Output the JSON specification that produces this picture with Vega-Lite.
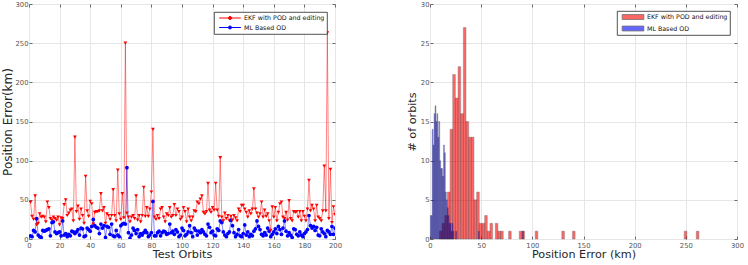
{
"$schema":"https://vega.github.io/schema/vega-lite/v6.json",
"background":"white",
"padding":{"left":0,"top":0,"right":0,"bottom":0},
"spacing":63,
"resolve":{"scale":{"color":"independent"},"legend":{"color":"independent"}},
"config":{
 "font":"DejaVu Sans",
 "view":{"stroke":"#6b6b6b","strokeWidth":1},
 "axis":{"gridColor":"#e6e6e6","gridWidth":1,"domain":false,"tickColor":"#6b6b6b","tickSize":-3,"labelFontSize":6.8,"labelColor":"#555555","titleFontWeight":"normal","titleColor":"#262626","labelPadding":4,"labelFlush":false},
 "axisX":{"labelFlush":false,"labelPadding":6},
 "legend":{"orient":"top-right","title":null,"fillColor":"white","strokeColor":"#262626","strokeWidth":0.8,"padding":2,"labelFontSize":6.3,"labelColor":"#111111","symbolSize":49,"rowPadding":1.5,"labelOffset":10,"symbolOffset":10,"offset":8}
},
"datasets":{
"orbits":[
{"o":1,"r":47,"b":4},{"o":2,"r":29,"b":3},{"o":3,"r":25,"b":11},{"o":4,"r":55,"b":9},{"o":5,"r":18,"b":26},{"o":6,"r":20,"b":5},{"o":7,"r":32,"b":3},{"o":8,"r":28,"b":2},{"o":9,"r":29,"b":11},{"o":10,"r":28,"b":10},
{"o":11,"r":22,"b":11},{"o":12,"r":47,"b":12},{"o":13,"r":40,"b":13},{"o":14,"r":26,"b":4},{"o":15,"r":24,"b":21},{"o":16,"r":28,"b":22},{"o":17,"r":26,"b":9},{"o":18,"r":24,"b":7},{"o":19,"r":28,"b":8},{"o":20,"r":18,"b":9},
{"o":21,"r":27,"b":4},{"o":22,"r":26,"b":23},{"o":23,"r":44,"b":5},{"o":24,"r":50,"b":7},{"o":25,"r":30,"b":3},{"o":26,"r":33,"b":6},{"o":27,"r":37,"b":4},{"o":28,"r":38,"b":10},{"o":29,"r":23,"b":9},{"o":30,"r":130,"b":7},
{"o":31,"r":35,"b":9},{"o":32,"r":42,"b":12},{"o":33,"r":25,"b":5},{"o":34,"r":38,"b":14},{"o":35,"r":30,"b":13},{"o":36,"r":20,"b":3},{"o":37,"r":80,"b":4},{"o":38,"r":36,"b":14},{"o":39,"r":29,"b":12},{"o":40,"r":48,"b":10},
{"o":41,"r":45,"b":16},{"o":42,"r":19,"b":25},{"o":43,"r":34,"b":17},{"o":44,"r":35,"b":15},{"o":45,"r":35,"b":14},{"o":46,"r":36,"b":7},{"o":47,"r":58,"b":19},{"o":48,"r":36,"b":14},{"o":49,"r":40,"b":17},{"o":50,"r":20,"b":2},
{"o":51,"r":32,"b":16},{"o":52,"r":30,"b":15},{"o":53,"r":25,"b":6},{"o":54,"r":30,"b":19},{"o":55,"r":63,"b":4},{"o":56,"r":30,"b":3},{"o":57,"r":23,"b":11},{"o":58,"r":88,"b":5},{"o":59,"r":32,"b":3},{"o":60,"r":25,"b":17},
{"o":61,"r":58,"b":19},{"o":62,"r":27,"b":20},{"o":63,"r":250,"b":19},{"o":64,"r":33,"b":91},{"o":65,"r":28,"b":8},{"o":66,"r":22,"b":1},{"o":67,"r":28,"b":5},{"o":68,"r":30,"b":14},{"o":69,"r":26,"b":11},{"o":70,"r":55,"b":7},
{"o":71,"r":24,"b":12},{"o":72,"r":30,"b":3},{"o":73,"r":22,"b":7},{"o":74,"r":30,"b":5},{"o":75,"r":66,"b":8},{"o":76,"r":29,"b":11},{"o":77,"r":40,"b":8},{"o":78,"r":29,"b":3},{"o":79,"r":38,"b":5},{"o":80,"r":60,"b":8},
{"o":81,"r":140,"b":48},{"o":82,"r":28,"b":4},{"o":83,"r":25,"b":4},{"o":84,"r":30,"b":8},{"o":85,"r":26,"b":10},{"o":86,"r":38,"b":4},{"o":87,"r":40,"b":8},{"o":88,"r":28,"b":10},{"o":89,"r":22,"b":9},{"o":90,"r":32,"b":6},
{"o":91,"r":30,"b":7},{"o":92,"r":40,"b":19},{"o":93,"r":28,"b":8},{"o":94,"r":30,"b":10},{"o":95,"r":44,"b":6},{"o":96,"r":30,"b":12},{"o":97,"r":38,"b":9},{"o":98,"r":35,"b":3},{"o":99,"r":25,"b":5},{"o":100,"r":28,"b":14},
{"o":101,"r":40,"b":11},{"o":102,"r":35,"b":4},{"o":103,"r":22,"b":6},{"o":104,"r":38,"b":9},{"o":105,"r":28,"b":17},{"o":106,"r":23,"b":8},{"o":107,"r":28,"b":3},{"o":108,"r":36,"b":14},{"o":109,"r":35,"b":11},{"o":110,"r":47,"b":5},
{"o":111,"r":45,"b":10},{"o":112,"r":51,"b":8},{"o":113,"r":55,"b":12},{"o":114,"r":34,"b":9},{"o":115,"r":32,"b":6},{"o":116,"r":35,"b":4},{"o":117,"r":71,"b":19},{"o":118,"r":37,"b":15},{"o":119,"r":34,"b":8},{"o":120,"r":40,"b":10},
{"o":121,"r":37,"b":5},{"o":122,"r":71,"b":4},{"o":123,"r":37,"b":13},{"o":124,"r":29,"b":11},{"o":125,"r":104,"b":23},{"o":126,"r":28,"b":21},{"o":127,"r":23,"b":9},{"o":128,"r":33,"b":5},{"o":129,"r":26,"b":3},{"o":130,"r":30,"b":7},
{"o":131,"r":23,"b":9},{"o":132,"r":29,"b":24},{"o":133,"r":24,"b":17},{"o":134,"r":30,"b":8},{"o":135,"r":27,"b":3},{"o":136,"r":23,"b":6},{"o":137,"r":38,"b":12},{"o":138,"r":35,"b":4},{"o":139,"r":43,"b":3},{"o":140,"r":43,"b":7},
{"o":141,"r":38,"b":18},{"o":142,"r":34,"b":5},{"o":143,"r":28,"b":9},{"o":144,"r":36,"b":3},{"o":145,"r":32,"b":6},{"o":146,"r":38,"b":4},{"o":147,"r":64,"b":10},{"o":148,"r":38,"b":13},{"o":149,"r":33,"b":23},{"o":150,"r":28,"b":16},
{"o":151,"r":32,"b":12},{"o":152,"r":47,"b":6},{"o":153,"r":28,"b":4},{"o":154,"r":37,"b":8},{"o":155,"r":29,"b":5},{"o":156,"r":32,"b":14},{"o":157,"r":23,"b":10},{"o":158,"r":11,"b":3},{"o":159,"r":41,"b":6},{"o":160,"r":28,"b":9},
{"o":161,"r":40,"b":13},{"o":162,"r":23,"b":7},{"o":163,"r":34,"b":16},{"o":164,"r":45,"b":12},{"o":165,"r":47,"b":6},{"o":166,"r":28,"b":14},{"o":167,"r":26,"b":23},{"o":168,"r":34,"b":10},{"o":169,"r":24,"b":4},{"o":170,"r":49,"b":8},
{"o":171,"r":26,"b":5},{"o":172,"r":23,"b":2},{"o":173,"r":35,"b":13},{"o":174,"r":34,"b":12},{"o":175,"r":35,"b":6},{"o":176,"r":28,"b":4},{"o":177,"r":35,"b":9},{"o":178,"r":23,"b":5},{"o":179,"r":35,"b":3},{"o":180,"r":29,"b":7},
{"o":181,"r":23,"b":9},{"o":182,"r":38,"b":12},{"o":183,"r":75,"b":30},{"o":184,"r":36,"b":17},{"o":185,"r":43,"b":14},{"o":186,"r":38,"b":16},{"o":187,"r":23,"b":11},{"o":188,"r":43,"b":15},{"o":189,"r":28,"b":5},{"o":190,"r":26,"b":4},
{"o":191,"r":23,"b":13},{"o":192,"r":36,"b":9},{"o":193,"r":93,"b":7},{"o":194,"r":36,"b":3},{"o":195,"r":263,"b":11},{"o":196,"r":26,"b":9},{"o":197,"r":89,"b":6},{"o":198,"r":21,"b":16},{"o":199,"r":41,"b":6},{"o":200,"r":31,"b":14}
],
"hist":[
{"s":"r","x0":9.2,"x1":11.8,"n":1},{"s":"r","x0":11.8,"x1":14.4,"n":2},{"s":"r","x0":14.4,"x1":17.0,"n":3},{"s":"r","x0":17.0,"x1":19.6,"n":6},{"s":"r","x0":19.6,"x1":22.2,"n":14},{"s":"r","x0":22.2,"x1":24.8,"n":21},{"s":"r","x0":24.8,"x1":27.4,"n":18},{"s":"r","x0":27.4,"x1":30.0,"n":22},{"s":"r","x0":30.0,"x1":32.6,"n":16},{"s":"r","x0":32.6,"x1":35.2,"n":27},{"s":"r","x0":35.2,"x1":37.8,"n":15},{"s":"r","x0":37.8,"x1":40.4,"n":13},{"s":"r","x0":40.4,"x1":43.0,"n":13},{"s":"r","x0":43.0,"x1":45.6,"n":5},{"s":"r","x0":45.6,"x1":48.2,"n":6},{"s":"r","x0":48.2,"x1":50.8,"n":2},{"s":"r","x0":50.8,"x1":53.4,"n":2},{"s":"r","x0":53.4,"x1":56.0,"n":3},{"s":"r","x0":56.0,"x1":58.6,"n":1},{"s":"r","x0":58.6,"x1":61.2,"n":2},{"s":"r","x0":63.8,"x1":66.4,"n":2},{"s":"r","x0":66.4,"x1":69.0,"n":1},{"s":"r","x0":69.0,"x1":71.6,"n":1},{"s":"r","x0":76.8,"x1":79.4,"n":1},{"s":"r","x0":87.2,"x1":89.8,"n":1},{"s":"r","x0":89.8,"x1":92.4,"n":1},{"s":"r","x0":102.8,"x1":105.4,"n":1},{"s":"r","x0":128.8,"x1":131.4,"n":1},{"s":"r","x0":139.2,"x1":141.8,"n":1},{"s":"r","x0":248.4,"x1":251.0,"n":1},{"s":"r","x0":260.2,"x1":262.8,"n":1},
{"s":"b","x0":0.30,"x1":1.22,"n":3},{"s":"b","x0":1.22,"x1":2.14,"n":3},{"s":"b","x0":2.14,"x1":3.06,"n":14},{"s":"b","x0":3.06,"x1":3.98,"n":12},{"s":"b","x0":3.98,"x1":4.90,"n":16},{"s":"b","x0":4.90,"x1":5.82,"n":17},{"s":"b","x0":5.82,"x1":6.74,"n":15},{"s":"b","x0":6.74,"x1":7.66,"n":16},{"s":"b","x0":7.66,"x1":8.58,"n":13},{"s":"b","x0":8.58,"x1":9.50,"n":15},{"s":"b","x0":9.50,"x1":10.42,"n":10},{"s":"b","x0":10.42,"x1":11.34,"n":9},{"s":"b","x0":11.34,"x1":12.26,"n":9},{"s":"b","x0":12.26,"x1":13.18,"n":8},{"s":"b","x0":13.18,"x1":14.10,"n":12},{"s":"b","x0":14.10,"x1":15.02,"n":11},{"s":"b","x0":15.02,"x1":15.94,"n":6},{"s":"b","x0":15.94,"x1":16.86,"n":5},{"s":"b","x0":16.86,"x1":17.78,"n":4},{"s":"b","x0":17.78,"x1":18.70,"n":3},{"s":"b","x0":18.70,"x1":19.62,"n":2},{"s":"b","x0":19.62,"x1":20.54,"n":2},{"s":"b","x0":20.54,"x1":21.46,"n":1},{"s":"b","x0":21.46,"x1":22.38,"n":2},{"s":"b","x0":22.38,"x1":23.30,"n":1},{"s":"b","x0":25.14,"x1":26.06,"n":1},{"s":"b","x0":47.22,"x1":48.14,"n":1},{"s":"b","x0":90.46,"x1":91.38,"n":1}
]
},
"hconcat":[
{
 "width":306,"height":235,
 "data":{"name":"orbits"},
 "transform":[{"fold":["r","b"],"as":["s","e"]}],
 "resolve":{"axis":{"x":"independent","y":"independent"}},
 "layer":[
  {"mark":{"type":"line","strokeWidth":0.8,"opacity":0.6,"clip":true},
   "encoding":{
    "x":{"field":"o","type":"quantitative","scale":{"domain":[0,200],"nice":false,"zero":false},"axis":{"values":[0,20,40,60,80,100,120,140,160,180,200],"labelFlush":false,"title":"Test Orbits","titleFontSize":11.2,"titlePadding":0}},
    "y":{"field":"e","type":"quantitative","scale":{"domain":[0,300],"nice":false},"axis":{"values":[0,50,100,150,200,250,300],"title":"Position Error(km)","titleFontSize":12,"titlePadding":1}},
    "color":{"field":"s","type":"nominal","scale":{"domain":["r","b"],"range":["#ff0000","#0000ff"]},
      "legend":{"labelExpr":"datum.value == 'r' ? 'EKF with POD and editing' : 'ML Based OD'","symbolOpacity":1,"symbolStrokeWidth":1,"symbolType":"M-3.1,0H3.1M0.45,0L0.32,0.32L0,0.45L-0.32,0.32L-0.45,0L-0.32,-0.32L0,-0.45L0.32,-0.32Z"}},
    "detail":{"field":"s"}
   }},
  {"mark":{"type":"point","filled":true,"size":14,"opacity":1,"clip":true},
   "encoding":{
    "x":{"field":"o","type":"quantitative","scale":{"domain":[0,200],"nice":false,"zero":false},"axis":{"orient":"top","labels":false,"grid":false,"title":null,"values":[0,20,40,60,80,100,120,140,160,180,200]}},
    "y":{"field":"e","type":"quantitative","scale":{"domain":[0,300],"nice":false},"axis":{"orient":"right","labels":false,"grid":false,"title":null,"values":[0,50,100,150,200,250,300]}},
    "color":{"field":"s","type":"nominal","scale":{"domain":["r","b"],"range":["#ff0000","#0000ff"]},"legend":null},
    "shape":{"field":"s","type":"nominal","scale":{"domain":["r","b"],"range":["triangle-down","circle"]},"legend":null}
   }}
 ]
},
{
 "width":307,"height":235,
 "data":{"name":"hist"},
 "resolve":{"axis":{"x":"independent","y":"independent"}},
 "layer":[
  {"mark":{"type":"bar","opacity":0.6,"stroke":"#1a1a1a","strokeWidth":0.5,"strokeOpacity":0.8},
   "encoding":{
    "x":{"field":"x0","type":"quantitative","scale":{"domain":[0,300],"nice":false},"axis":{"values":[0,50,100,150,200,250,300],"labelFlush":false,"title":"Position Error (km)","titleFontSize":11.2,"titlePadding":0}},
    "x2":{"field":"x1"},
    "y":{"field":"n","type":"quantitative","scale":{"domain":[0,30],"nice":false},"axis":{"values":[0,5,10,15,20,25,30],"title":"# of orbits","titleFontSize":11.2,"titlePadding":3}},
    "y2":{"datum":0},
    "color":{"field":"s","type":"nominal","scale":{"domain":["r","b"],"range":["#ff0000","#0000ff"]},
      "legend":{"offset":7,"labelExpr":"datum.value == 'r' ? 'EKF with POD and editing' : 'ML Based OD'","symbolType":"M-3.1,-0.7H3.1V0.7H-3.1Z","symbolOpacity":0.6,"symbolStrokeColor":"#111111","symbolStrokeWidth":0.8}}
   }},
  {"mark":{"type":"bar","opacity":0},
   "encoding":{
    "x":{"field":"x0","type":"quantitative","scale":{"domain":[0,300],"nice":false},"axis":{"orient":"top","labels":false,"grid":false,"title":null,"values":[0,50,100,150,200,250,300]}},
    "x2":{"field":"x1"},
    "y":{"field":"n","type":"quantitative","scale":{"domain":[0,30],"nice":false},"axis":{"orient":"right","labels":false,"grid":false,"title":null,"values":[0,5,10,15,20,25,30]}},
    "y2":{"datum":0}
   }}
 ]
}
]
}
